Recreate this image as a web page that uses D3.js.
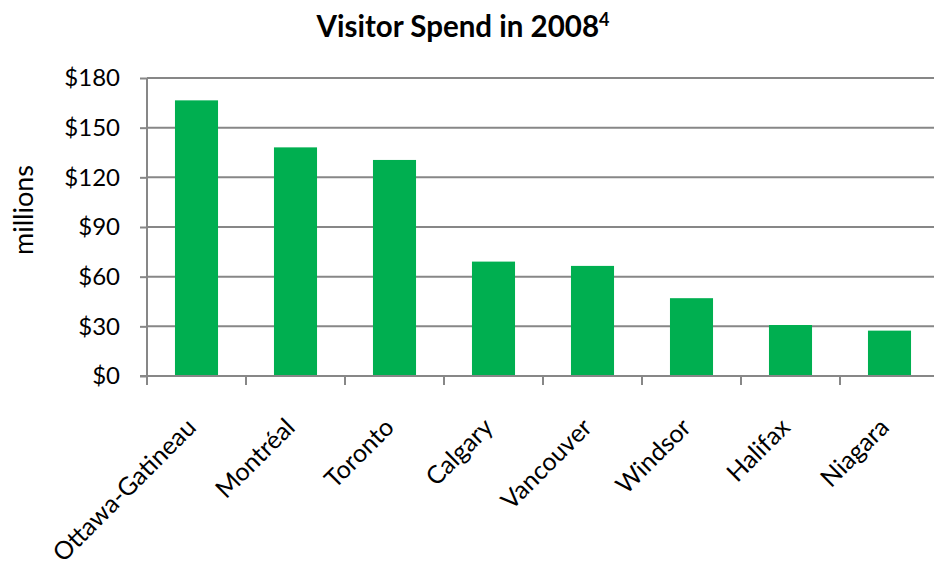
<!DOCTYPE html>
<html>
<head>
<meta charset="utf-8">
<script src="https://cdn.jsdelivr.net/npm/d3@7"></script>
<style>
  html, body { margin: 0; padding: 0; background: #fff; }
  svg { display: block; font-family: Lato, "Open Sans", sans-serif; }
</style>
</head>
<body>
<svg id="chart" width="934" height="571"></svg>
<script>
// Visitor spend by city, 2008 (millions of dollars)
const cities = ["Ottawa-Gatineau", "Montréal", "Toronto", "Calgary", "Vancouver", "Windsor", "Halifax", "Niagara"];
const spend = [166.5, 138.1, 130.5, 69.1, 66.5, 47.0, 30.8, 27.4];
const yTicks = [0, 30, 60, 90, 120, 150, 180];

const svg = d3.select("#chart");
const plotLeft = 147, plotBottom = 376, plotTop = 78, step = 99;
const plotRight = plotLeft + step * cities.length;
const gridColor = "#878787";
const barColor = "#00AF50";

const x = d3.scaleBand()
  .domain(cities)
  .range([plotLeft, plotRight])
  .paddingInner(0.565)
  .paddingOuter(0.2825);

const y = d3.scaleLinear().domain([0, 180]).range([plotBottom, plotTop]);

// Title
const title = svg.append("text")
  .attr("x", 463).attr("y", 37)
  .attr("text-anchor", "middle")
  .attr("font-size", 29.5).attr("font-weight", "bold")
  .attr("fill", "#000");
title.append("tspan").text("Visitor Spend in 2008");
title.append("tspan").attr("font-size", 18).attr("dy", -11).text("4");

// Horizontal gridlines
svg.append("g").selectAll("line")
  .data(yTicks.filter(d => d > 0))
  .join("line")
  .attr("x1", plotLeft).attr("x2", plotRight)
  .attr("y1", d => y(d)).attr("y2", d => y(d))
  .attr("stroke", gridColor).attr("stroke-width", 2);

// Bars
svg.append("g").selectAll("rect")
  .data(cities)
  .join("rect")
  .attr("x", d => x(d))
  .attr("width", x.bandwidth())
  .attr("y", (d, i) => y(spend[i]))
  .attr("height", (d, i) => y(0) - y(spend[i]))
  .attr("fill", barColor);

// Y axis
const yAxis = d3.axisLeft(y)
  .tickValues(yTicks)
  .tickSize(7)
  .tickPadding(20)
  .tickFormat(d => "$" + d);
const gy = svg.append("g").attr("transform", `translate(${plotLeft},0)`).call(yAxis);
gy.select(".domain").remove();
gy.selectAll(".tick line").attr("stroke", gridColor).attr("stroke-width", 2);
gy.selectAll(".tick text")
  .attr("font-size", 24).attr("fill", "#000")
  .attr("font-family", "Lato, sans-serif");
svg.append("line")
  .attr("x1", plotLeft).attr("x2", plotLeft)
  .attr("y1", plotTop).attr("y2", plotBottom + 9)
  .attr("stroke", gridColor).attr("stroke-width", 2);

// X axis baseline and category boundary ticks
svg.append("line")
  .attr("x1", plotLeft - 7).attr("x2", plotRight)
  .attr("y1", plotBottom).attr("y2", plotBottom)
  .attr("stroke", gridColor).attr("stroke-width", 2);
svg.append("g").selectAll("line")
  .data(d3.range(cities.length + 1))
  .join("line")
  .attr("x1", i => plotLeft + i * x.step()).attr("x2", i => plotLeft + i * x.step())
  .attr("y1", plotBottom).attr("y2", plotBottom + 9)
  .attr("stroke", gridColor).attr("stroke-width", 2);

// Rotated category labels
svg.append("g").selectAll("text")
  .data(cities)
  .join("text")
  .attr("transform", d => `translate(${x(d) + x.bandwidth() / 2 + 1},${plotBottom + 53}) rotate(-45)`)
  .attr("text-anchor", "end")
  .attr("font-size", 25)
  .attr("fill", "#000")
  .text(d => d);

// Y axis title
svg.append("text")
  .attr("transform", "translate(33,210) rotate(-90)")
  .attr("text-anchor", "middle")
  .attr("font-size", 27)
  .attr("fill", "#000")
  .text("millions");
</script>
</body>
</html>
